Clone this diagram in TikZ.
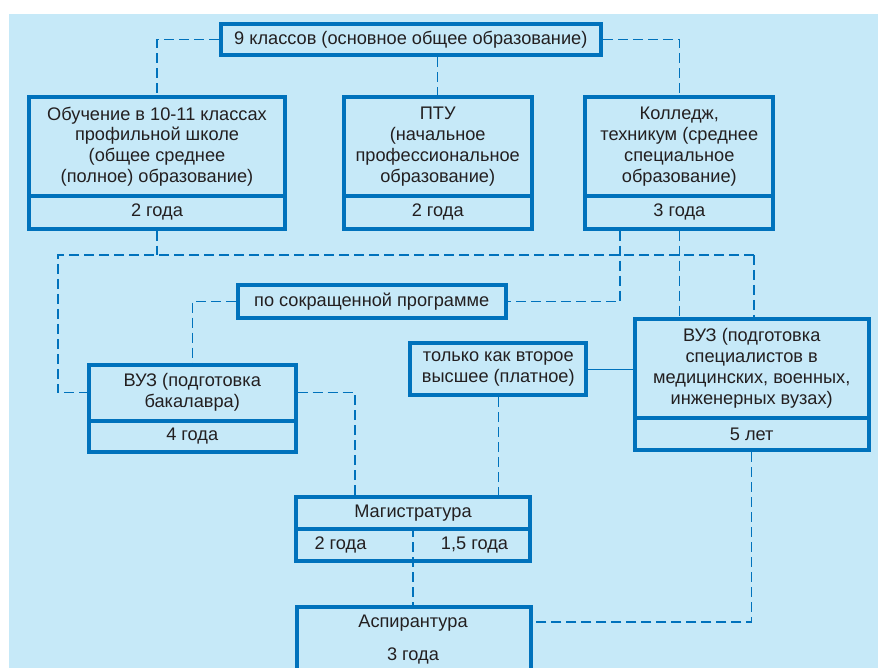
\documentclass[tikz,border=0pt]{standalone}
\usepackage{fontspec}
\setmainfont{Liberation Sans}
\usepackage{tikz}
\usetikzlibrary{calc}
\definecolor{ramka}{RGB}{0,114,188}
\definecolor{fon}{RGB}{198,233,248}
\definecolor{tekst}{RGB}{35,31,32}
\tikzset{
  blok/.style={draw=ramka, line width=4pt, align=center, inner sep=0pt,
    text=tekst, font=\fontsize{18.2pt}{20.8pt}\selectfont},
  nadpis/.style={inner sep=0pt, text=tekst, font=\fontsize{18.2pt}{20.8pt}\selectfont},
  svyaz/.style={draw=ramka, line width=1.3pt, dash pattern=on 10pt off 5pt},
  liniya/.style={draw=ramka, line width=1.3pt},
}

\begin{document}
\begin{tikzpicture}[x=1pt,y=-1pt]
\useasboundingbox (0,0) rectangle (878,668);
\clip (0,0) rectangle (878,668);
\fill[white] (0,0) rectangle (878,668);
\fill[fon] (9,14) rectangle (878,668);
% verkhnij uroven
\node[blok, minimum width=380.5pt, minimum height=31.3pt] (top) at (410.8,39.7) {9 классов (основное общее образование)};
\node[blok, minimum width=256pt, minimum height=99pt] (obuchU) at (157,146.5) {Обучение в 10-11 классах\\профильной школе\\(общее среднее\\(полное) образование)};
\node[blok, minimum width=256pt, minimum height=32.7pt] (obuchL) at (157,212.35) {2 года};
\node[blok, minimum width=188pt, minimum height=99pt] (ptuU) at (437.7,146.5) {ПТУ\\(начальное\\профессиональное\\образование)};
\node[blok, minimum width=188pt, minimum height=32.7pt] (ptuL) at (437.7,212.35) {2 года};
\node[blok, minimum width=188pt, minimum height=99pt] (kolU) at (679.3,146.5) {Колледж,\\техникум (среднее\\специальное\\образование)};
\node[blok, minimum width=188pt, minimum height=32.7pt] (kolL) at (679.3,212.35) {3 года};
% vuzy
\node[blok, minimum width=267.7pt, minimum height=33.3pt] (sokr) at (371.7,301.3) {по сокращенной программе};
\node[blok, minimum width=206.7pt, minimum height=55.8pt] (bachU) at (192.2,392.6) {ВУЗ (подготовка\\бакалавра)};
\node[blok, minimum width=206.7pt, minimum height=31.2pt] (bachL) at (192.2,436.1) {4 года};
\node[blok, minimum width=176pt, minimum height=52.3pt] (vtor) at (498.3,369.2) {только как второе\\высшее (платное)};
\node[blok, minimum width=234pt, minimum height=99.3pt] (vuzU) at (751.7,368.3) {ВУЗ (подготовка\\специалистов в\\медицинских, военных,\\инженерных вузах)};
\node[blok, minimum width=234pt, minimum height=32.3pt] (vuzL) at (751.7,434.2) {5 лет};
% magistratura i aspirantura
\node[blok, minimum width=234.6pt, minimum height=32pt] (magU) at (413,513.2) {Магистратура};
\node[blok, minimum width=234.6pt, minimum height=31.8pt] (magL) at (413,545.1) {};
\node[nadpis] (magA) at (340.5,545.1) {2 года};
\node[nadpis] (magB) at (474.5,545.1) {1,5 года};
\node[blok, minimum width=234.1pt, minimum height=100pt, anchor=north] (asp) at (414.3,605.3) {};
\node[nadpis] (aspA) at (413,623) {Аспирантура};
\node[nadpis] (aspB) at (413,656) {3 года};
% svyazi
\coordinate (uzelL) at (58,255);
\coordinate (uzelR) at (754,255);
\coordinate (uzelS) at (620,301.3);
\draw[svyaz] (top.west) -| (obuchU.north);
\draw[svyaz] (top.south -| ptuU.north) -- (ptuU.north);
\draw[svyaz] (top.east) -| (kolU.north);
\draw[svyaz] (obuchL.south) -- (obuchL.south |- uzelL);
\draw[svyaz] (uzelR) -- (uzelL) |- (bachU.west);
\draw[svyaz] (uzelR) -- (uzelR |- vuzU.north);
\draw[svyaz] (kolL.south -| uzelS) -- (uzelS) -- (sokr.east);
\draw[svyaz] (kolL.south) -- (kolL.south |- vuzU.north);
\draw[svyaz] (sokr.west) -| (bachU.north);
\draw[svyaz] (bachU.east) -| ([xshift=-58pt]magU.north);
\draw[svyaz] (vtor.south) -- (vtor.south |- magU.north);
\draw[liniya] (vtor.east) -- (vtor.east -| vuzU.west);
\draw[svyaz] (magL.north) -- (magL.north |- asp.north);
\draw[svyaz] (vuzL.south) |- ([yshift=-16.7pt]asp.north east);
\end{tikzpicture}
\end{document}
